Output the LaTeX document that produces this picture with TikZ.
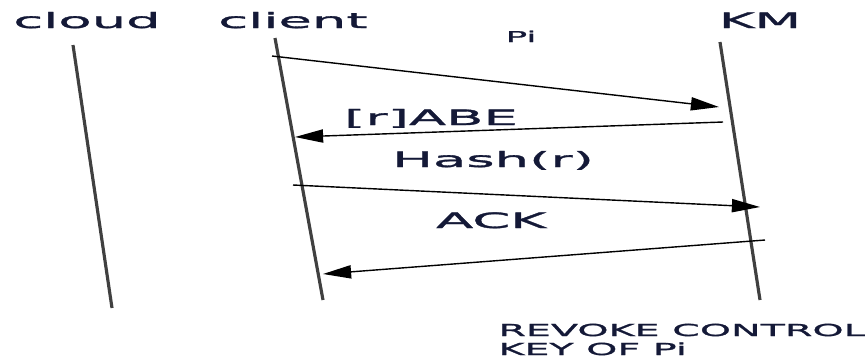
\documentclass[tikz,border=0pt]{standalone}
\usepackage{fontspec}
\newfontfamily\widefont[FakeStretch=2.58,FakeBold=1.6]{DejaVu Sans}
\newfontfamily\notefont[FakeStretch=2.4,FakeBold=1.6]{DejaVu Sans}
\usetikzlibrary{arrows.meta}
\definecolor{inkblue}{RGB}{20,25,55}
\tikzset{
	life/.style={line width=1.8pt,draw=black!75},
	msg/.style={line width=0.8pt,-{Triangle[length=16pt,width=7.5pt]}},
	lbl/.style={text=inkblue,font=\widefont\fontsize{12}{14}\selectfont,inner sep=0pt,anchor=base},
	note/.style={text=inkblue,font=\notefont\fontsize{9.4}{11}\selectfont,inner sep=0pt,anchor=base west}
}
\begin{document}
\begin{tikzpicture}[x=0.02cm,y=-0.02cm]
		\useasboundingbox (0,0) rectangle (865,360);
		\node[lbl] (cloud) at (87,28) {cloud};
		\node[lbl] (client) at (293,28) {client};
		\node[lbl] (km) at (760,28) {KM};
		\node[note,anchor=base,font=\notefont\fontsize{8.5}{10}\selectfont] (pi) at (521,42) {Pi};
		\coordinate (cloudtop) at (73,45);
		\coordinate (cloudbot) at (112,308);
		\coordinate (clienttop) at (275,38);
		\coordinate (clientbot) at (323,300);
		\coordinate (kmtop) at (720,42);
		\coordinate (kmbot) at (760,300);
		\draw[life] (cloudtop)--(cloudbot);
		\draw[life] (clienttop)--(clientbot);
		\draw[life] (kmtop)--(kmbot);
		\coordinate (p1) at (272,56);
		\coordinate (q1) at (719,107);
		\coordinate (p2) at (723,122);
		\coordinate (q2) at (295,137);
		\coordinate (p3) at (293,185);
		\coordinate (q3) at (760,207);
		\coordinate (p4) at (765,240);
		\coordinate (q4) at (323,274);
		\draw[msg] (p1)--(q1);
		\draw[msg] (p2)--(q2);
		\draw[msg] (p3)--(q3);
		\draw[msg] (p4)--(q4);
		\node[lbl] (abe) at (431,125) {[r]ABE};
		\node[lbl] (hash) at (493,167) {Hash(r)};
		\node[lbl] (ack) at (491,228) {ACK};
		\node[note] (revoke) at (498,336) {REVOKE CONTROL};
		\node[note] (keyof) at (498,355) {KEY OF Pi};
	\end{tikzpicture}
\end{document}
